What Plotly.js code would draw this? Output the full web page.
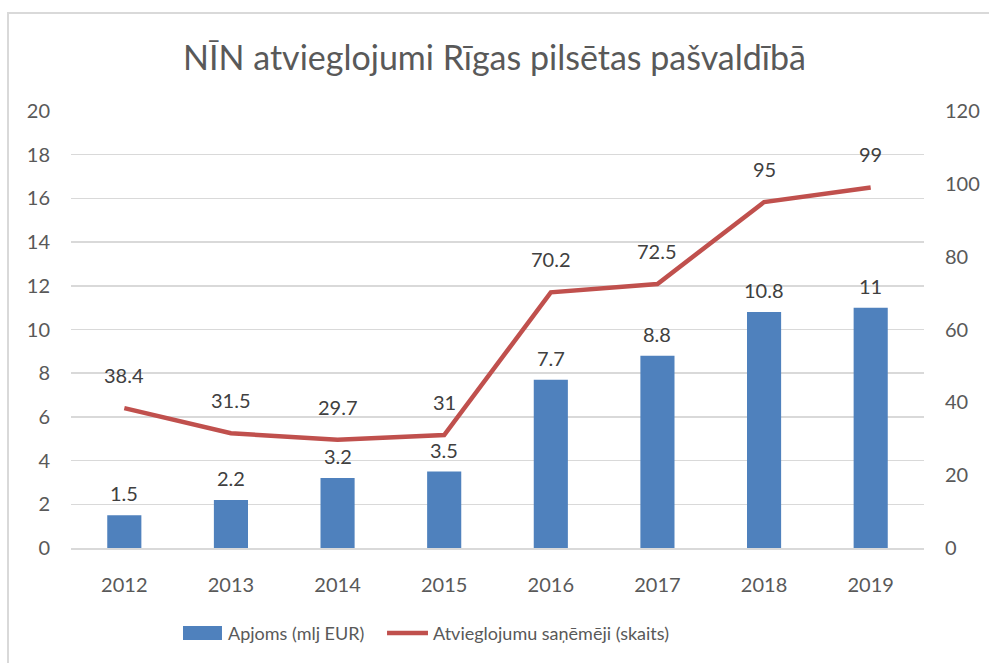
<!DOCTYPE html>
<html><head><meta charset="utf-8">
<script src="https://cdn.plot.ly/plotly-3.0.1.min.js"></script>
<style>
html,body{margin:0;padding:0;background:#fff;overflow:hidden}
#chart{width:989px;height:663px;position:absolute;left:0;top:0}
#frame{position:absolute;left:7px;top:12px;width:1000px;height:700px;border-top:2px solid #d9d9d9;border-left:2px solid #d9d9d9;pointer-events:none}
</style></head>
<body>
<div id="chart"></div>
<div id="frame"></div>
<script>
const years = ['2012','2013','2014','2015','2016','2017','2018','2019'];
const apjoms = [1.5, 2.2, 3.2, 3.5, 7.7, 8.8, 10.8, 11];
const sanemeji = [38.4, 31.5, 29.7, 31, 70.2, 72.5, 95, 99];
const barName = 'Apjoms (mlj EUR)';
const lineName = 'Atvieglojumu saņēmēji (skaits)';
const titleText = 'NĪN atvieglojumi Rīgas pilsētas pašvaldībā';

const FONT = 'Lato, "Open Sans", sans-serif';
const GRAY = '#595959';
const BAR = '#4F81BD';
const LINE = '#C0504D';

const traces = [
  {type:'bar', x:years, y:apjoms, name:barName, marker:{color:BAR}, yaxis:'y', hoverinfo:'skip', showlegend:false},
  {type:'scatter', mode:'lines', x:years, y:sanemeji, name:lineName, yaxis:'y2',
   line:{color:LINE, width:4.5}, hoverinfo:'skip', showlegend:false}
];

const annotations = [];
years.forEach((yr,i)=>{
  annotations.push({x:i, y:apjoms[i], xref:'x', yref:'y', text:String(apjoms[i]), showarrow:false,
    yanchor:'bottom', yshift:8, font:{family:FONT, size:20, color:'#404040'}});
  annotations.push({x:i, y:sanemeji[i], xref:'x', yref:'y2', text:String(sanemeji[i]), showarrow:false,
    yanchor:'bottom', yshift:19, font:{family:FONT, size:20, color:'#404040'}});
});
// legend texts
annotations.push({xref:'paper', yref:'paper', x:0.1817, y:-0.1945, xanchor:'left', yanchor:'middle',
  text:barName, showarrow:false, font:{family:FONT, size:18, color:GRAY}});
annotations.push({xref:'paper', yref:'paper', x:0.422, y:-0.1945, xanchor:'left', yanchor:'middle',
  text:lineName, showarrow:false, font:{family:FONT, size:18, color:GRAY}});

const shapes = [
  {type:'rect', xref:'paper', yref:'paper', x0:0.1313, x1:0.177, y0:-0.2105, y1:-0.1785,
    fillcolor:BAR, line:{width:0}},
  {type:'line', xref:'paper', yref:'paper', x0:0.3705, x1:0.4185, y0:-0.1945, y1:-0.1945,
    line:{color:LINE, width:4.5}}
];

const layout = {
  width:989, height:663,
  margin:{l:71, r:65, t:111, b:115},
  paper_bgcolor:'rgba(0,0,0,0)', plot_bgcolor:'#fff',
  title:{text:titleText, font:{family:FONT, size:34, color:GRAY}, x:0.5, xanchor:'center', y:0.912, yanchor:'middle'},
  bargap:0.68,
  showlegend:false,
  xaxis:{type:'category', range:[-0.5,7.5], showgrid:false, zeroline:false, showline:true, linecolor:'#d9d9d9', linewidth:2,
    ticks:'', tickfont:{family:FONT, size:20, color:GRAY}, ticklabelstandoff:18},
  yaxis:{range:[0,20], dtick:2, showgrid:true, gridcolor:'#d9d9d9', gridwidth:1.5, zeroline:false,
    ticks:'', tickfont:{family:FONT, size:20, color:GRAY}, ticklabelstandoff:20},
  yaxis2:{range:[0,120], dtick:20, overlaying:'y', side:'right', showgrid:false, zeroline:false,
    ticks:'', tickfont:{family:FONT, size:20, color:GRAY}, ticklabelstandoff:20},
  annotations:annotations,
  shapes:shapes
};

Plotly.newPlot('chart', traces, layout, {staticPlot:true, displayModeBar:false});
</script>
</body></html>
